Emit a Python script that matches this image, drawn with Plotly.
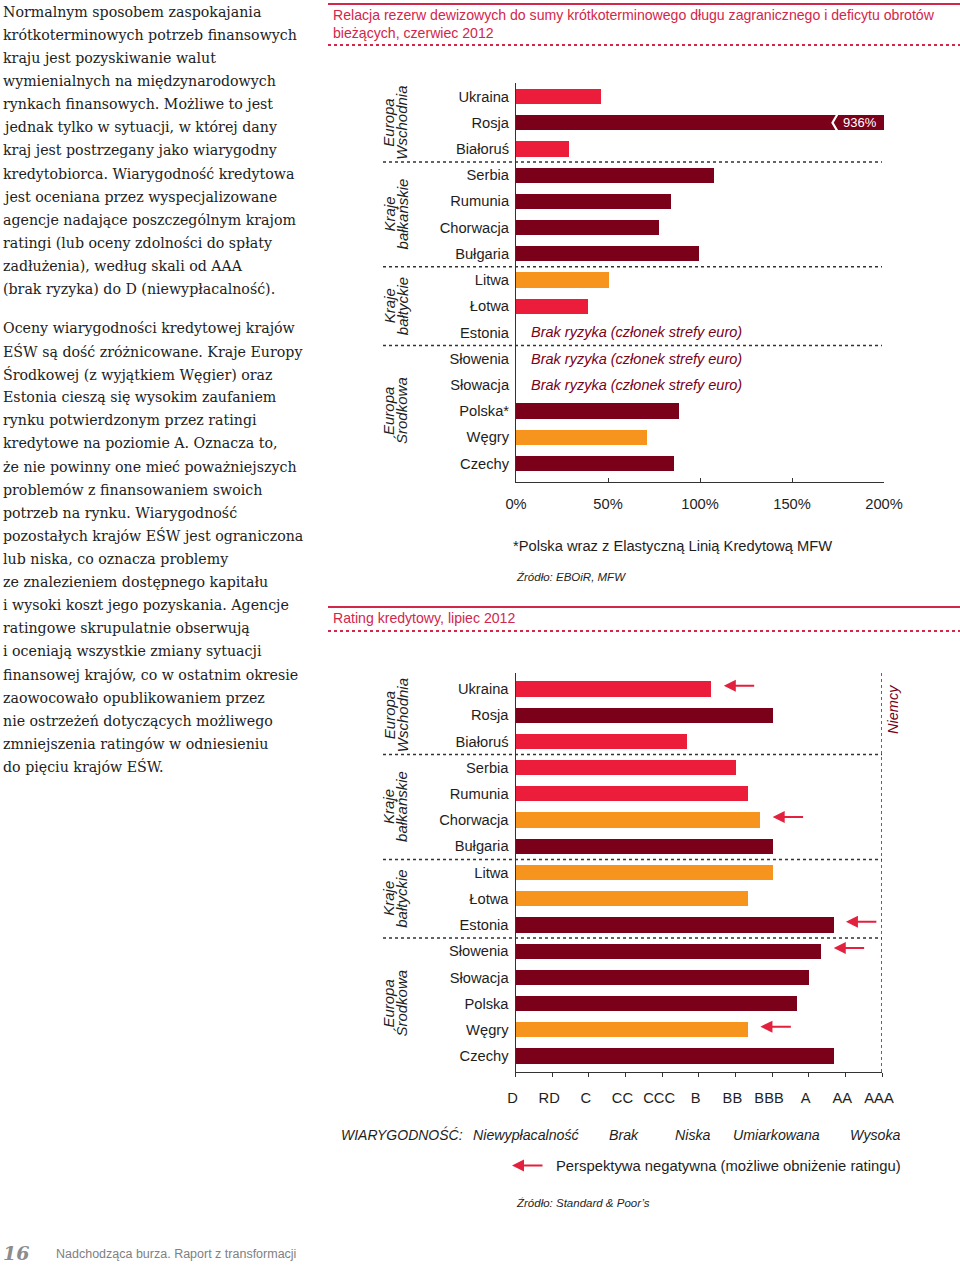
import plotly.graph_objects as go

W, H = 960, 1265

# ---------------- data ----------------
countries_top = ["Ukraina", "Rosja", "Białoruś", "Serbia", "Rumunia", "Chorwacja", "Bułgaria",
                 "Litwa", "Łotwa", "Estonia", "Słowenia", "Słowacja", "Polska*", "Węgry", "Czechy"]
reserves_pct = [46, 936, 29, 107.5, 84.5, 77.5, 99.5, 50.5, 39, None, None, None, 88.5, 71, 86]
reserves_class = ["red", "maroon", "red", "maroon", "maroon", "maroon", "maroon",
                  "orange", "red", None, None, None, "maroon", "orange", "maroon"]
no_risk_label = "Brak ryzyka (członek strefy euro)"

countries_bottom = ["Ukraina", "Rosja", "Białoruś", "Serbia", "Rumunia", "Chorwacja", "Bułgaria",
                    "Litwa", "Łotwa", "Estonia", "Słowenia", "Słowacja", "Polska", "Węgry", "Czechy"]
ratings = ["B+", "BBB", "B-", "BB", "BB+", "BBB-", "BBB", "BBB", "BB+", "AA-", "A+", "A", "A-", "BB+", "AA-"]
ratings_class = ["red", "maroon", "red", "red", "red", "orange", "maroon",
                 "orange", "orange", "maroon", "maroon", "maroon", "maroon", "orange", "maroon"]
negative_outlook = [True, False, False, False, False, True, False,
                    False, False, True, True, False, False, True, False]
rating_scale = ["D", "RD", "C", "CC", "CCC", "B", "BB", "BBB", "A", "AA", "AAA"]
credibility_labels = ["Niewypłacalność", "Brak", "Niska", "Umiarkowana", "Wysoka"]

groups = [("Europa", "Wschodnia", 0, 2), ("Kraje", "bałkańskie", 3, 6),
          ("Kraje", "bałtyckie", 7, 9), ("Europa", "Środkowa", 10, 14)]

pct_ticks = [0, 50, 100, 150, 200]

body_lines_p1 = [
    "Normalnym sposobem zaspokajania",
    "krótkoterminowych potrzeb finansowych",
    "kraju jest pozyskiwanie walut",
    "wymienialnych na międzynarodowych",
    "rynkach finansowych. Możliwe to jest",
    "jednak tylko w sytuacji, w której dany",
    "kraj jest postrzegany jako wiarygodny",
    "kredytobiorca. Wiarygodność kredytowa",
    "jest oceniana przez wyspecjalizowane",
    "agencje nadające poszczególnym krajom",
    "ratingi (lub oceny zdolności do spłaty",
    "zadłużenia), według skali od AAA",
    "(brak ryzyka) do D (niewypłacalność).",
]
body_lines_p2 = [
    "Oceny wiarygodności kredytowej krajów",
    "EŚW są dość zróżnicowane. Kraje Europy",
    "Środkowej (z wyjątkiem Węgier) oraz",
    "Estonia cieszą się wysokim zaufaniem",
    "rynku potwierdzonym przez ratingi",
    "kredytowe na poziomie A. Oznacza to,",
    "że nie powinny one mieć poważniejszych",
    "problemów z finansowaniem swoich",
    "potrzeb na rynku. Wiarygodność",
    "pozostałych krajów EŚW jest ograniczona",
    "lub niska, co oznacza problemy",
    "ze znalezieniem dostępnego kapitału",
    "i wysoki koszt jego pozyskania. Agencje",
    "ratingowe skrupulatnie obserwują",
    "i oceniają wszystkie zmiany sytuacji",
    "finansowej krajów, co w ostatnim okresie",
    "zaowocowało opublikowaniem przez",
    "nie ostrzeżeń dotyczących możliwego",
    "zmniejszenia ratingów w odniesieniu",
    "do pięciu krajów EŚW.",
]

# ---------------- styles ----------------
COL = {"red": "#EC1C3B", "maroon": "#7B0019", "orange": "#F7941D"}
TITLE_COL = "#D3264B"
ARROW_COL = "#E3203D"
SANS = "Liberation Sans, Arial, sans-serif"
SERIF = "DejaVu Serif, serif"
TXT = "#1e1e1e"
FS = 14.7


def px(x):
    return x / W


def py(y):
    return 1 - y / H


def rating_value(r):
    base = r.rstrip("+-")
    v = rating_scale.index(base)
    if r.endswith("+"):
        v += 1 / 3
    elif r.endswith("-"):
        v -= 1 / 3
    return v


rating_vals = [rating_value(r) for r in ratings]

fig = go.Figure()

fig.add_trace(go.Bar(
    x=reserves_pct, y=countries_top, orientation="h",
    marker=dict(color=[COL[c] if c else "rgba(0,0,0,0)" for c in reserves_class], line=dict(width=0)),
    width=0.58, xaxis="x", yaxis="y", hoverinfo="skip", showlegend=False,
))
fig.add_trace(go.Bar(
    x=rating_vals, y=countries_bottom, orientation="h",
    marker=dict(color=[COL[c] for c in ratings_class], line=dict(width=0)),
    width=0.58, xaxis="x2", yaxis="y2", hoverinfo="skip", showlegend=False,
))

axis_line = dict(showline=True, linecolor="#333333", linewidth=1, showgrid=False, zeroline=False,
                 automargin=False)

fig.update_layout(
    width=W, height=H, margin=dict(l=0, r=0, t=0, b=0, autoexpand=False),
    autosize=False,
    paper_bgcolor="white", plot_bgcolor="white",
    font=dict(family=SANS, size=FS, color=TXT),
    bargap=0,
    xaxis=dict(domain=[px(516), px(884)], range=[0, 200], anchor="y",
               tickvals=pct_ticks, ticktext=[f"{v}%" for v in pct_ticks],
               ticks="inside", ticklen=4, tickcolor="#333333",
               ticklabelstandoff=8, tickfont=dict(size=FS), **axis_line),
    yaxis=dict(domain=[py(482), py(83)], anchor="x", type="category",
               categoryorder="array", categoryarray=countries_top,
               range=[14.71, -0.515], ticks="", ticklabelstandoff=3,
               tickfont=dict(size=FS), **axis_line),
    xaxis2=dict(domain=[px(515.5), px(882)], range=[0, 10], anchor="y2",
                tickvals=list(range(len(rating_scale))), ticktext=rating_scale,
                ticks="outside", ticklen=4, tickcolor="#333333",
                ticklabelstandoff=8, ticklabelshift=-3, tickfont=dict(size=FS), **axis_line),
    yaxis2=dict(domain=[py(1072), py(673)], anchor="x2", type="category",
                categoryorder="array", categoryarray=countries_bottom,
                range=[14.61, -0.61], ticks="", ticklabelstandoff=3,
                tickfont=dict(size=FS), **axis_line),
)

shapes = []
ann = []

# header rules
for y_solid, y_dot in [(4, 45), (607, 631)]:
    shapes.append(dict(type="line", xref="paper", yref="paper", x0=px(328), x1=1,
                       y0=py(y_solid), y1=py(y_solid), line=dict(color=TITLE_COL, width=2)))
    shapes.append(dict(type="line", xref="paper", yref="paper", x0=px(328), x1=1,
                       y0=py(y_dot), y1=py(y_dot), line=dict(color=TITLE_COL, width=2, dash="dot")))

ann.append(dict(xref="paper", yref="paper", x=px(331), y=py(15), xanchor="left", yanchor="middle",
                text="Relacja rezerw dewizowych do sumy krótkoterminowego długu zagranicznego i deficytu obrotów",
                showarrow=False, font=dict(size=14.1, color=TITLE_COL)))
ann.append(dict(xref="paper", yref="paper", x=px(331), y=py(33), xanchor="left", yanchor="middle",
                text="bieżących, czerwiec 2012", showarrow=False, font=dict(size=14.1, color=TITLE_COL)))
ann.append(dict(xref="paper", yref="paper", x=px(331), y=py(618), xanchor="left", yanchor="middle",
                text="Rating kredytowy, lipiec 2012", showarrow=False, font=dict(size=14.1, color=TITLE_COL)))

# group separators and labels for both charts
for yref in ["y", "y2"]:
    for i, (l1, l2, s, e) in enumerate(groups):
        if i < len(groups) - 1:
            shapes.append(dict(type="line", xref="paper", yref=yref, x0=px(383), x1=px(882),
                               y0=e + 0.5, y1=e + 0.5, line=dict(color="#333333", width=1.5, dash="dot")))
        mid = (s + e) / 2
        for line_txt, xp in [(l1, 389), (l2, 402)]:
            ann.append(dict(xref="paper", yref=yref, x=px(xp), y=mid, text=f"<i>{line_txt}</i>",
                            textangle=-90, showarrow=False, xanchor="center", yanchor="middle",
                            font=dict(size=15, color=TXT)))

# top chart: no-risk labels and broken bar
for i, (v, c) in enumerate(zip(reserves_pct, reserves_class)):
    if v is None:
        ann.append(dict(xref="x", yref="y", x=7, y=i, text=f"<i>{no_risk_label}</i>",
                        xanchor="left", yanchor="middle", showarrow=False,
                        font=dict(size=14.5, color=COL["maroon"])))
    elif v > pct_ticks[-1]:
        ann.append(dict(xref="x", yref="y", x=pct_ticks[-1], xshift=-5, y=i, text=f"{v}%",
                        xanchor="right", yanchor="middle", showarrow=False,
                        font=dict(size=13, color="white")))
        xb = pct_ticks[-1] - 25
        d = 3.0
        shapes.append(dict(type="path", xref="x", yref="y",
                           path=f"M {xb},{i-0.36} L {xb-d},{i} L {xb},{i+0.36}",
                           line=dict(color="white", width=2.2)))

ann.append(dict(xref="paper", yref="paper", x=px(511), y=py(546.5), xanchor="left", yanchor="middle",
                text="*Polska wraz z Elastyczną Linią Kredytową MFW", showarrow=False,
                font=dict(size=FS, color=TXT)))
ann.append(dict(xref="paper", yref="paper", x=px(514), y=py(577), xanchor="left", yanchor="middle",
                text="<i>Źródło: EBOiR, MFW</i>", showarrow=False, font=dict(size=11.5, color=TXT)))

# bottom chart: Niemcy reference line
shapes.append(dict(type="line", xref="x2", yref="y2 domain", x0=len(rating_scale) - 1, x1=len(rating_scale) - 1,
                   y0=0, y1=1, line=dict(color="#333333", width=1.5, dash="dot")))
ann.append(dict(xref="x2", yref="y2", x=len(rating_scale) - 1, xshift=11, y=0.8, text="<i>Niemcy</i>",
                textangle=-90, showarrow=False, font=dict(size=14.5, color=COL["maroon"])))

# negative outlook arrows
for i, (v, neg) in enumerate(zip(rating_vals, negative_outlook)):
    if neg:
        ann.append(dict(xref="x2", yref="y2", x=v + 0.35, y=i - 0.12, ax=v + 1.22, ay=i - 0.12,
                        axref="x2", ayref="y2", text="", showarrow=True, arrowhead=2,
                        arrowsize=1.2, arrowwidth=2, arrowcolor=ARROW_COL, standoff=0, startstandoff=0))

# credibility legend line
ann.append(dict(xref="paper", yref="paper", x=px(339), y=py(1134.5), xanchor="left", yanchor="middle",
                text="<i>WIARYGODNOŚĆ:</i>", showarrow=False, font=dict(size=14, color=TXT)))
for lbl, xp in zip(credibility_labels, [471, 607, 673, 731, 848]):
    ann.append(dict(xref="paper", yref="paper", x=px(xp), y=py(1134.5), xanchor="left", yanchor="middle",
                    text=f"<i>{lbl}</i>", showarrow=False, font=dict(size=14.2, color=TXT)))

ann.append(dict(xref="paper", yref="paper", x=px(512), y=py(1165.5), ax=32, ay=0, text="",
                showarrow=True, arrowhead=2, arrowsize=1.2, arrowwidth=2, arrowcolor=ARROW_COL,
                standoff=0, startstandoff=0))
ann.append(dict(xref="paper", yref="paper", x=px(554), y=py(1165.5), xanchor="left", yanchor="middle",
                text="Perspektywa negatywna (możliwe obniżenie ratingu)", showarrow=False,
                font=dict(size=14.8, color=TXT)))
ann.append(dict(xref="paper", yref="paper", x=px(514), y=py(1203), xanchor="left", yanchor="middle",
                text="<i>Źródło: Standard &amp; Poor’s</i>", showarrow=False, font=dict(size=11.5, color=TXT)))

# body text column
for k, line in enumerate(body_lines_p1):
    ann.append(dict(xref="paper", yref="paper", x=px(1), y=py(12 + 23.08 * k), xanchor="left",
                    yanchor="middle", text=line, showarrow=False,
                    font=dict(family=SERIF, size=14.2, color="#222222")))
for k, line in enumerate(body_lines_p2):
    ann.append(dict(xref="paper", yref="paper", x=px(1), y=py(328 + 23.1 * k), xanchor="left",
                    yanchor="middle", text=line, showarrow=False,
                    font=dict(family=SERIF, size=14.2, color="#222222")))

# footer
ann.append(dict(xref="paper", yref="paper", x=px(1), y=py(1253), xanchor="left", yanchor="middle",
                text="<b><i>16</i></b>", showarrow=False,
                font=dict(family=SERIF, size=19, color="#8c8c8c")))
ann.append(dict(xref="paper", yref="paper", x=px(54), y=py(1254), xanchor="left", yanchor="middle",
                text="Nadchodząca burza. Raport z transformacji", showarrow=False,
                font=dict(family=SANS, size=12.5, color="#808080")))

fig.update_layout(shapes=shapes, annotations=ann)
fig.write_html(
    "out.html",
    config={"responsive": False, "displayModeBar": False},
    post_script="document.body.style.margin='0';document.body.style.overflow='hidden';",
)
